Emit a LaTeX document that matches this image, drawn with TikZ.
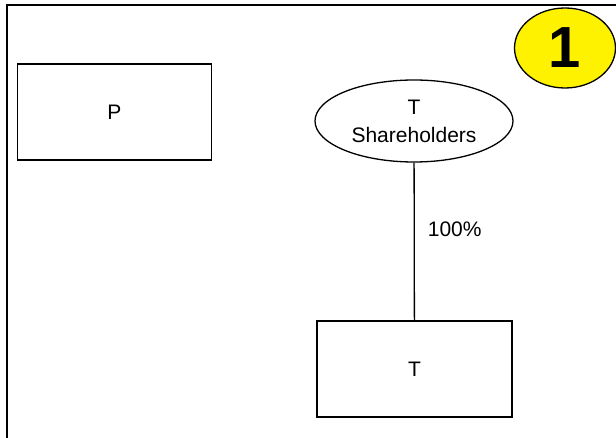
\documentclass[tikz,border=0pt]{standalone}
\usepackage{fontspec}
\setmainfont{Liberation Sans}
\usetikzlibrary{shapes.geometric, positioning}
\tikzset{
x=1pt, y=-1pt, % one unit is one pixel of the layout, y runs downwards
edge/.style={line width=1.3pt}, % boxes, ellipses and the link
entity/.style={draw, edge, minimum width=194pt, minimum height=96pt, font=\fontsize{21}{24}\selectfont}, % companies
holders/.style={draw, edge, ellipse, minimum width=198pt, minimum height=82pt, inner sep=0pt, align=center, font=\fontsize{21}{28}\selectfont}, % shareholders
badge/.style={draw, edge, ellipse, fill=yellow, minimum width=101pt, minimum height=80pt, font=\fontsize{58}{58}\selectfont\bfseries}, % step number
}
\begin{document}
\begin{tikzpicture}
    \useasboundingbox (0,0) rectangle (616,438);
    \draw[line width=2.4pt] (7,438) |- (616,5);

    \node[badge] (step1) at (565,48) {1};
    \node[entity] (p) at (114.5,112) {P};
    \node[holders] (tsh) at (414,121) {T\\Shareholders};
    \node[entity, minimum width=195pt] (t) at (414.5,369) {T};

    \draw[edge] (tsh) -- node[pos=0.42, anchor=west, xshift=13pt, inner sep=0pt, font=\fontsize{21}{24}\selectfont] {100\%} (t);
\end{tikzpicture}
\end{document}
